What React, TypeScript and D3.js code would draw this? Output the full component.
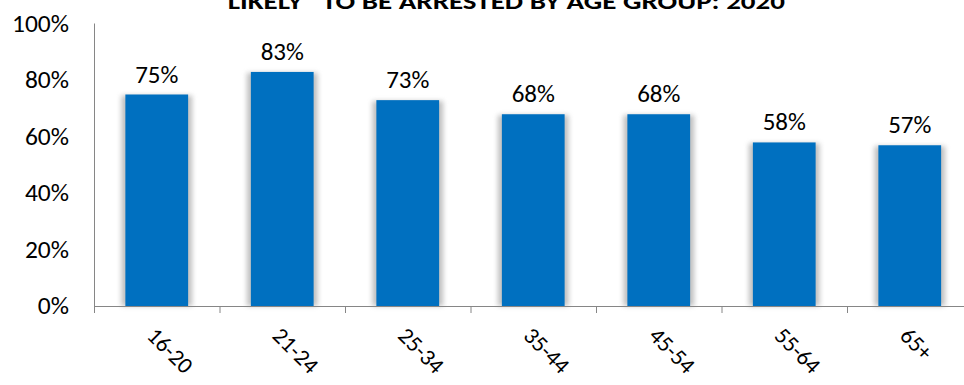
import React from "react";
import * as d3 from "d3";

const categories = ["16-20", "21-24", "25-34", "35-44", "45-54", "55-64", "65+"];
const values = [75, 83, 73, 68, 68, 58, 57];
const yTicks = [0, 20, 40, 60, 80, 100];
const titleText = "\u201CLIKELY\u201D TO BE ARRESTED BY AGE GROUP: 2020";

const W = 964;
const H = 385;
const FONT = "Carlito, Calibri, Lato, sans-serif";

export default function App() {
  const x = d3
    .scaleBand<string>()
    .domain(categories)
    .range([94, 972.5])
    .paddingInner(0.5)
    .paddingOuter(0.25);
  const y = d3.scaleLinear().domain([0, 100]).range([306, 24]);
  const step = x.step();
  const boundaries = d3.range(categories.length + 1).map((i) => 94 + i * step);

  return (
    <svg
      width={W}
      height={H}
      style={{ position: "absolute", left: 0, top: 0, background: "#fff" }}
      fontFamily={FONT}
    >
      <defs>
        <filter id="shadow" x="-30%" y="-10%" width="160%" height="120%">
          <feGaussianBlur stdDeviation="2.5" />
        </filter>
      </defs>
      <text
        x={500}
        y={9}
        textAnchor="middle"
        fontWeight="bold"
        fontSize={23}
        textLength={570}
        lengthAdjust="spacingAndGlyphs"
        fill="#000"
      >
        {titleText}
      </text>

      {/* y labels */}
      {yTicks.map((t) => (
        <text key={t} x={69} y={y(t) + 8} textAnchor="end" fontSize={25.5} fill="#000">
          {t}%
        </text>
      ))}

      {/* bars with shadows */}
      {categories.map((c, i) => {
        const bx = x(c)!;
        const bw = x.bandwidth();
        return (
          <g key={c}>
            <rect
              x={bx - 4}
              y={y(values[i]) + 1}
              width={bw + 8}
              height={y(0) - y(values[i]) - 1}
              fill="#8c8c8c"
              opacity={0.55}
              filter="url(#shadow)"
            />
            <rect x={bx} y={y(values[i])} width={bw} height={y(0) - y(values[i])} fill="#0070C0" />
            <text
              x={bx + bw / 2}
              y={y(values[i]) - 12}
              textAnchor="middle"
              fontSize={25}
              fill="#000"
            >
              {values[i]}%
            </text>
          </g>
        );
      })}

      {/* axes */}
      <line x1={94.5} x2={94.5} y1={23.5} y2={313} stroke="#868686" strokeWidth={1} />
      <line x1={94} x2={W} y1={306.5} y2={306.5} stroke="#868686" strokeWidth={1} />
      {boundaries.map((b, i) => (
        <line key={i} x1={b + 0.5} x2={b + 0.5} y1={306} y2={313} stroke="#868686" strokeWidth={1} />
      ))}

      {/* x labels */}
      {categories.map((c) => {
        const cx = x(c)! + x.bandwidth() / 2;
        return (
          <text
            key={c}
            transform={`translate(${cx - 11},${337}) rotate(45)`}
            textAnchor="start"
            fontSize={23}
            fill="#000"
          >
            {c}
          </text>
        );
      })}
    </svg>
  );
}
